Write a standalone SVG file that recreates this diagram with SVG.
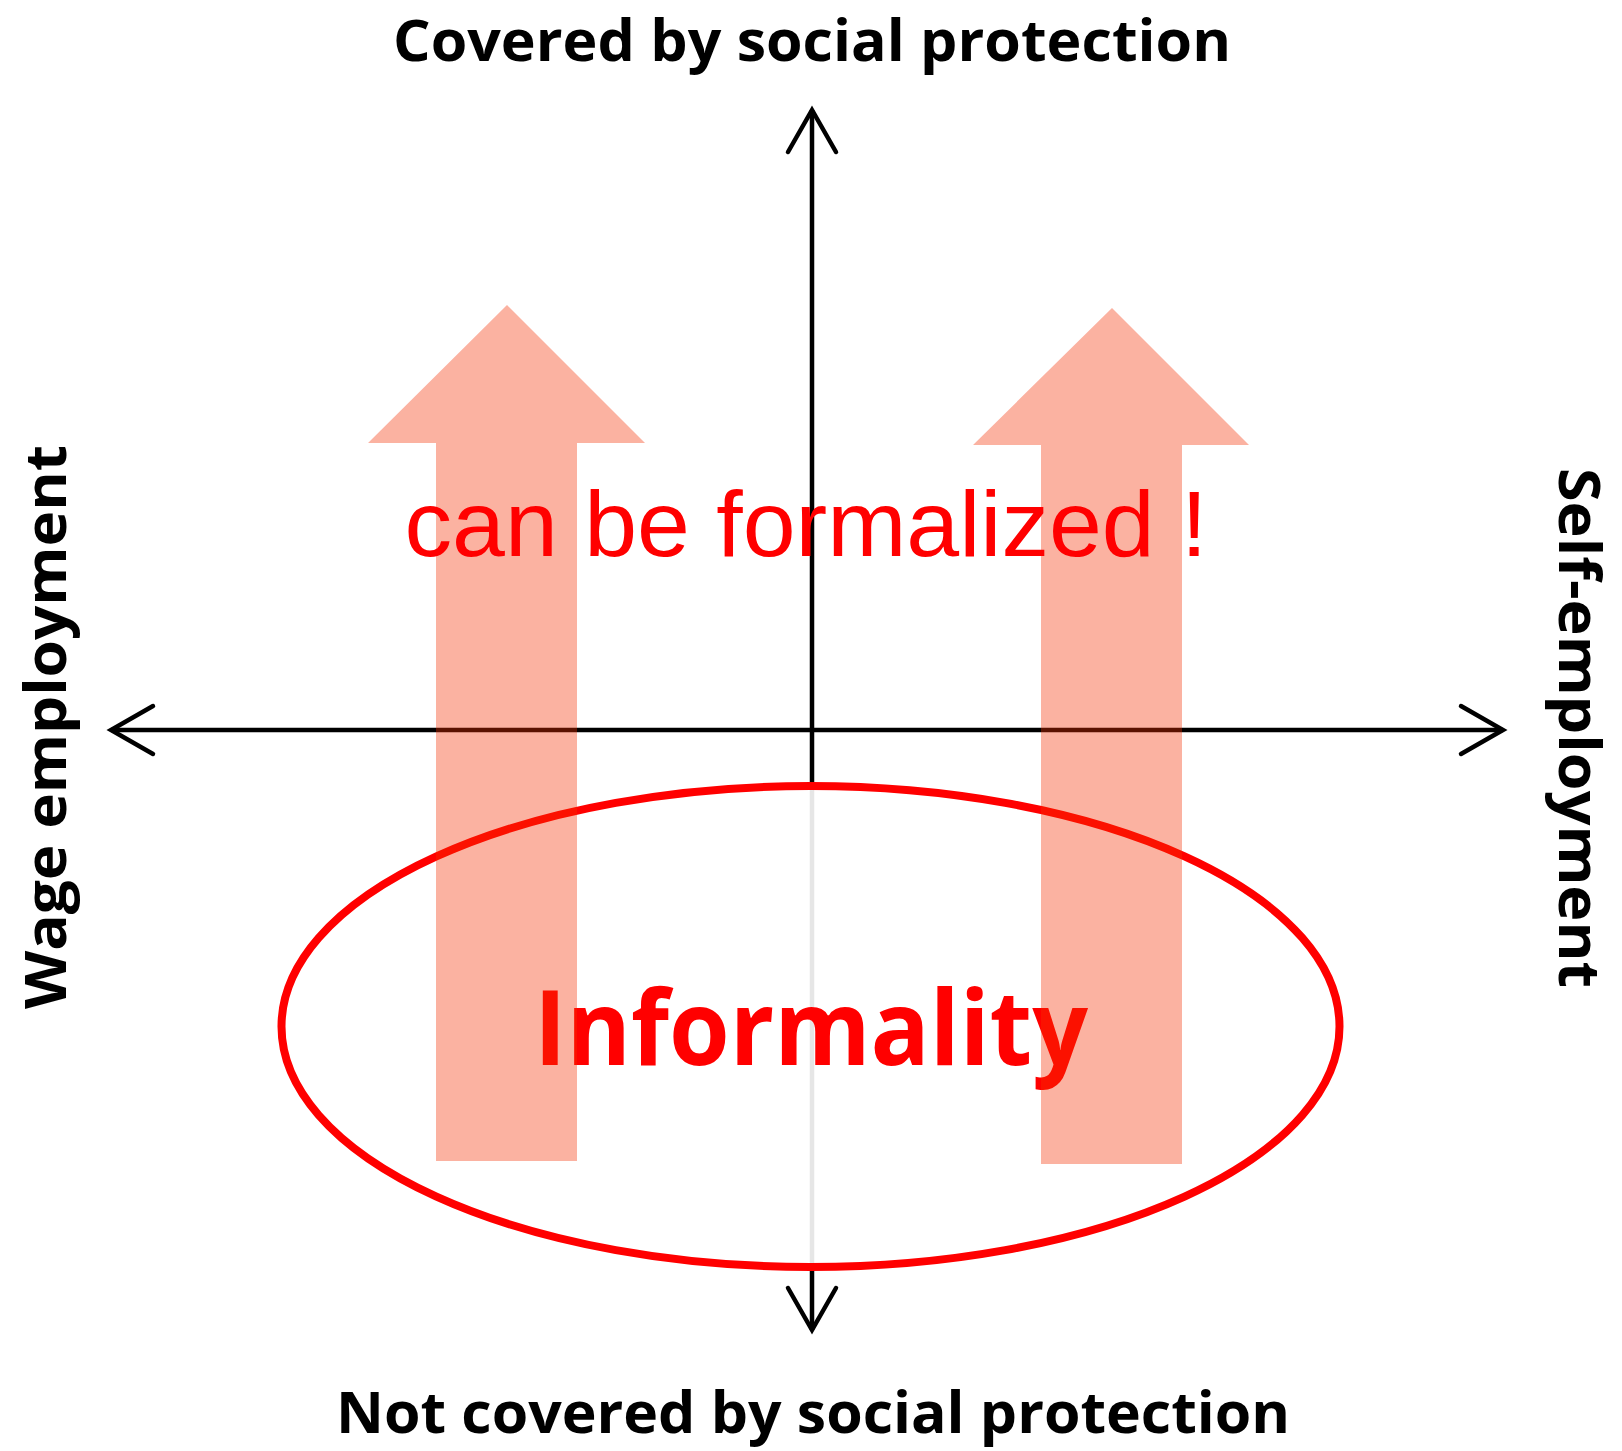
<svg xmlns="http://www.w3.org/2000/svg" width="1622" height="1451" viewBox="0 0 1622 1451">
<style>
.axis{stroke:#000;stroke-width:4.5;fill:none}
.lbl{font-family:"Open Sans","Noto Sans","Liberation Sans",sans-serif;font-weight:bold;fill:#000}
.big{fill:#F42D00;fill-opacity:0.37}
</style>
<defs>
<marker id="open" markerUnits="userSpaceOnUse" markerWidth="60" markerHeight="60" viewBox="-50 -30 60 60" refX="0" refY="0" orient="auto-start-reverse">
<path d="M-42,-24 L0,0 L-42,24" fill="none" stroke="#000" stroke-width="4.5" stroke-linecap="round" stroke-linejoin="miter"/>
</marker>
</defs>
<rect width="1622" height="1451" fill="#fff"/>
<g id="connectors">
<line class="axis" x1="812" y1="1330" x2="812" y2="110" marker-start="url(#open)" marker-end="url(#open)"/>
<line class="axis" x1="111" y1="730" x2="1503" y2="730" marker-start="url(#open)" marker-end="url(#open)"/>
</g>
<g id="informality">
<ellipse cx="810.5" cy="1026.5" rx="529" ry="240.5" fill="#fff" fill-opacity="0.9" stroke="#f00" stroke-width="8"/>
<text x="811" y="1065" text-anchor="middle" font-family="Open Sans,Noto Sans,Liberation Sans,sans-serif" font-weight="bold" font-size="104" fill="#f00" textLength="554" lengthAdjust="spacingAndGlyphs">Informality</text>
</g>
<g id="arrow-wage">
<polygon class="big" points="507,305 645,443 577,443 577,1161 436,1161 436,443 368,443"/>
</g>
<g id="arrow-self">
<polygon class="big" points="1112,308 1249,445 1182,445 1182,1164 1041,1164 1041,445 973,445"/>
</g>
<g id="formalized">
<text x="806" y="556" text-anchor="middle" font-family="Liberation Sans,Arial,sans-serif" font-size="92" fill="#f00" textLength="803" lengthAdjust="spacingAndGlyphs">can be formalized !</text>
</g>
<g id="label-top">
<text class="lbl" x="812" y="61" text-anchor="middle" font-size="58" textLength="838" lengthAdjust="spacingAndGlyphs">Covered by social protection</text>
</g>
<g id="label-bottom">
<text class="lbl" x="813" y="1433" text-anchor="middle" font-size="58" textLength="954" lengthAdjust="spacingAndGlyphs">Not covered by social protection</text>
</g>
<g id="label-left">
<text class="lbl" transform="translate(66,727) rotate(-90)" text-anchor="middle" font-size="58" textLength="564" lengthAdjust="spacingAndGlyphs">Wage employment</text>
</g>
<g id="label-right">
<text class="lbl" transform="translate(1559,728) rotate(90)" text-anchor="middle" font-size="58" textLength="520" lengthAdjust="spacingAndGlyphs">Self-employment</text>
</g>
</svg>
